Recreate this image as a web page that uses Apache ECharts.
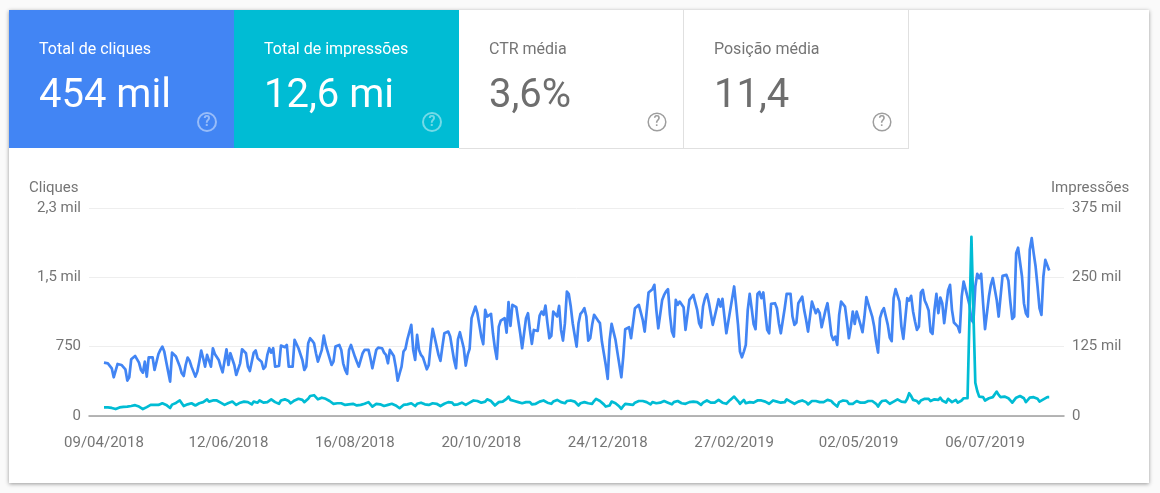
<!DOCTYPE html>
<html>
<head>
<meta charset="utf-8">
<style>html,body{margin:0;padding:0;background:#fafafa;overflow:hidden}#c{width:1160px;height:493px}</style>
<script src="https://cdn.jsdelivr.net/npm/echarts@6/dist/echarts.min.js"></script>
</head>
<body>
<div id="c"></div>
<script>
const clicks = [
578,563,570,563,516,419,408,
563,552,552,549,505,383,419,
614,635,650,635,578,498,469,
588,426,635,650,635,498,484,
671,715,751,697,588,480,372,
686,671,643,625,534,462,433,
552,632,599,534,527,426,480,
588,708,625,534,661,599,534,
733,671,679,606,534,473,480,
722,552,679,690,552,444,462,
570,722,726,679,534,487,498,
686,708,625,643,588,509,534,
661,733,686,733,534,523,541,
762,751,744,769,534,527,534,
823,816,733,740,606,498,534,
787,841,816,787,679,588,578,
715,870,769,697,686,552,588,
751,769,769,715,570,498,455,
715,769,751,643,588,534,516,
679,715,722,715,625,516,527,
715,740,722,733,686,661,570,
715,715,650,534,383,462,534,
697,726,830,841,986,715,606,
877,715,661,635,625,505,552,
769,942,852,866,661,596,751,
895,877,913,859,733,606,516,
830,906,906,733,545,661,726,
1058,1076,1184,1112,986,859,776,
1148,1076,1094,1105,895,733,617,
967,1032,1022,1058,902,1231,975,
1202,1202,1177,1166,895,733,895,
1058,1112,931,780,931,920,920,
1087,1130,1094,1195,1004,841,866,
1130,1141,1076,1191,931,816,1004,
1347,1318,1184,1004,877,751,1004,
1105,1130,1166,1076,816,841,986,
1094,1076,1032,1004,805,679,552,
401,823,996,975,823,686,671,
419,643,939,949,960,841,830,
1166,1159,1202,1220,1040,913,895,
1336,1340,1372,1419,1148,949,931,
1256,1310,1347,1372,1094,913,859,
1256,1202,1238,1220,1177,931,913,
1256,1263,1310,1328,1148,1004,957,
1184,1274,1318,1227,1238,986,967,
1166,1263,1184,1267,1076,895,888,
1148,1155,1401,1202,986,697,635,
697,769,1148,1321,1166,996,939,
1321,1343,1274,1336,1130,931,895,
1213,1220,1220,1166,1004,895,913,
1166,1321,1328,1321,1076,986,1011,
1220,1238,1292,1148,1040,913,906,
1238,1220,1112,1155,1112,960,967,
1148,1220,1058,877,823,859,770,
1094,1238,1249,1184,1022,841,967,
1130,996,1130,1112,986,906,1076,
1285,1213,1210,1076,967,806,686,
1058,1130,1166,1155,986,849,809,
1274,1372,1383,1238,967,834,823,
1274,1249,1300,1130,1022,931,967,
1336,1365,1249,1202,1141,913,888,
1148,1321,1112,1282,1220,1004,996,
1357,1419,1148,1011,1029,967,906,
1292,1455,1372,1357,1202,1040,1011,
1400,1538,1491,1538,1220,939,931,
1292,1419,1491,1502,1256,1076,1076,
1516,1520,1527,1466,1238,1051,1076,
1762,1820,1827,1509,1220,1112,1076,
1798,1924,1762,1617,1401,1166,1094,
1509,1689,1708,1574
];
const impressions = [
15.5,15.5,15.5,15,14.5,13.5,12.5,
14.5,15.5,16,16.5,18,17,16,
18,20,19.5,18,17,15,12.5,
15,16,18,20,21.5,20,18,
20,22,23,22,20,17,14.5,
20.5,22,23.5,25,28,28,18,
20,21,23,23,22,19,20,
23,26,25,25,30,26,25,
28,31,28,26,24,21,20,
23,23.5,25,26,25,20,19,
24,25,26,26,25,22,21,
26,28,24,28,27,24,22,
25,27,30,28,25,22,22,
28,29,30,30,27,23,22,
28,30,31,33,29,25,24,
31,36,37,37.5,35,30,28,
33,36,31,30,27,24,22,
24,23,23,23,22,20,19,
21,21,22,21,19,17,20,
21,22,23,25,21,17,19,
22,22,21,21,18,19,20,
22,22,21,19,16,14,15,
20,22,21,22,23,24,18,
22,24,24,23,21,20,20,
22,23,23,22,20,18,19,
22,24,25,26,24,20,17,
21,24,24,22,20,21,24,
27,28,28,27,27,24,21,
26,30,29,27,23,19,20,
25,27,26,28,31,35,29,
28,27,27,25,24,23,23,
25,26,25,21,22,22,24,
26,27,28,28,24,21,22,
26,28,29,27,25,22,23,
27,29,28,27,26,25,19,
23,26,25,24,23,22,22,
27,31,28,27,24,21,17,
14,19,26,25,23,20,17,
13,18,22,23,21,21,20,
24,27,27,27,27,27,25,
24,21,25,27,23,21,24,
27,27,25,24,22,21,25,
27,27,26,23,22,22,24,
25,26,26,26,25,22,20,
24,27,28,26,24,23,24,
26,29,27,24,23,22,25,
29,32,35,31,27,22,25,
29,23,23,25,26,24,22,
28,29,28,27,26,24,22,
25,28,27,26,26,24,22,
25,30,28,26,24,22,21,
26,29,28,26,25,21,20,
27,28,27,26,25,24,25,
28,29,30,27,23,20,17,
25,27,28,28,27,22,19,
22,24,27,26,24,21,24,
27,27,27,27,26,22,17,
23,27,28,28,25,22,20,
26,29,30,28,26,25,25,
31,41,36,29,26,27,23,
28,30,31,31,31,27,26,
30,30,29,33,28,25,24,
31,30,25,27,29,24,21,
28,32,32,32,32,323,190,
60,45,35,34,34,28,27,
32,34,34,37,44,38,34,
34,35,35,32,28,24,25,
33,36,36,35,32,25,26,
33,36,34,33,31,26,25,
30,33,34,34
];
const dateLabels = ['09/04/2018','12/06/2018','16/08/2018','20/10/2018','24/12/2018','27/02/2019','02/05/2019','06/07/2019'];
const dateDays = [0,64,129,194,259,324,388,453];
const clickTicks = ['0','750','1,5 mil','2,3 mil'];
const impressionTicks = ['0','125 mil','250 mil','375 mil'];
const tileTitles = ['Total de cliques','Total de impressões','CTR média','Posição média'];
const tileValues = ['454 mil','12,6 mi','3,6%','11,4'];

const font = 'Roboto, sans-serif';
const tileX = [9,234,459,684], tileBg = ['#4285F4','#00BCD4','#ffffff','#ffffff'];
const g = [];
g.push({type:'rect',silent:true,z:0,shape:{x:9,y:10,width:1140,height:473},
  style:{fill:'#fff',shadowBlur:4,shadowColor:'rgba(0,0,0,0.4)',shadowOffsetY:1}});
tileTitles.forEach((t,i)=>{
  const x=tileX[i], on=i<2;
  g.push({type:'rect',silent:true,z:1,shape:{x:x,y:10,width:225,height:138},style:{fill:tileBg[i]}});
  if(!on){
    g.push({type:'line',silent:true,z:2,shape:{x1:x,y1:148.5,x2:x+225,y2:148.5},style:{stroke:'#e0e0e0',lineWidth:1}});
    g.push({type:'line',silent:true,z:2,shape:{x1:x+224.5,y1:10,x2:x+224.5,y2:148},style:{stroke:'#e0e0e0',lineWidth:1}});
  }
  g.push({type:'text',silent:true,z:3,x:x+30,y:50,style:{text:t,fill:on?'#fff':'#757575',font:'400 16px '+font,textVerticalAlign:'middle'}});
  g.push({type:'text',silent:true,z:3,x:x+30,y:97,style:{text:tileValues[i],fill:on?'#fff':'#6e6e6e',font:'400 40px '+font,textVerticalAlign:'middle'}});
  const cx=x+198, cy=122, col=on?'rgba(255,255,255,0.45)':'#9e9e9e';
  g.push({type:'circle',silent:true,z:3,shape:{cx:cx,cy:cy,r:on?9:8.8},style:{fill:'none',stroke:col,lineWidth:on?2:1.5}});
  g.push({type:'text',silent:true,z:3,x:cx,y:cy+.5,style:{text:'?',fill:col,font:(on?'700':'500')+' 14px '+font,textAlign:'center',textVerticalAlign:'middle'}});
});
g.push({type:'text',silent:true,z:3,x:29,y:188,style:{text:'Cliques',fill:'#757575',font:'400 15px '+font,textVerticalAlign:'middle'}});
g.push({type:'text',silent:true,z:3,x:1051,y:188,style:{text:'Impressões',fill:'#757575',font:'400 15px '+font,textVerticalAlign:'middle'}});

const chart = echarts.init(document.getElementById('c'),null,{width:1160,height:493});
const lab = {color:'#757575',fontFamily:font,fontSize:15};
chart.setOption({
  animation:false,
  backgroundColor:'#fafafa',
  graphic:{elements:g},
  grid:{left:89,right:96,top:208,bottom:77,containLabel:false},
  xAxis:{type:'value',min:-7.7,max:493.6,
    axisLine:{show:true,onZero:false,lineStyle:{color:'#9e9e9e',width:1.5}},
    axisTick:{show:false},splitLine:{show:false},
    axisLabel:Object.assign({},lab,{margin:20,customValues:dateDays,hideOverlap:false,
      formatter:v=>dateLabels[dateDays.indexOf(v)]||''})},
  yAxis:[
    {type:'value',min:0,max:2250,interval:750,axisLine:{show:false},axisTick:{show:false},
     splitLine:{lineStyle:{color:'#eeeeee',width:1}},
     axisLabel:Object.assign({},lab,{margin:8,padding:[4,0,0,0],formatter:v=>clickTicks[v/750]})},
    {type:'value',min:0,max:375,interval:125,position:'right',axisLine:{show:false},axisTick:{show:false},
     splitLine:{show:false},
     axisLabel:Object.assign({},lab,{margin:8,padding:[4,0,0,0],formatter:v=>impressionTicks[v/125]})}
  ],
  series:[
    {type:'line',name:'Cliques',yAxisIndex:0,showSymbol:false,z:3,silent:true,
     lineStyle:{color:'#4285F4',width:2.7,join:'round'},itemStyle:{color:'#4285F4'},
     data:clicks.map((v,i)=>[i,v])},
    {type:'line',name:'Impressões',yAxisIndex:1,showSymbol:false,z:4,silent:true,
     lineStyle:{color:'#00BCD4',width:2.7,join:'round'},itemStyle:{color:'#00BCD4'},
     data:impressions.map((v,i)=>[i,v])}
  ]
});
</script>
</body>
</html>
